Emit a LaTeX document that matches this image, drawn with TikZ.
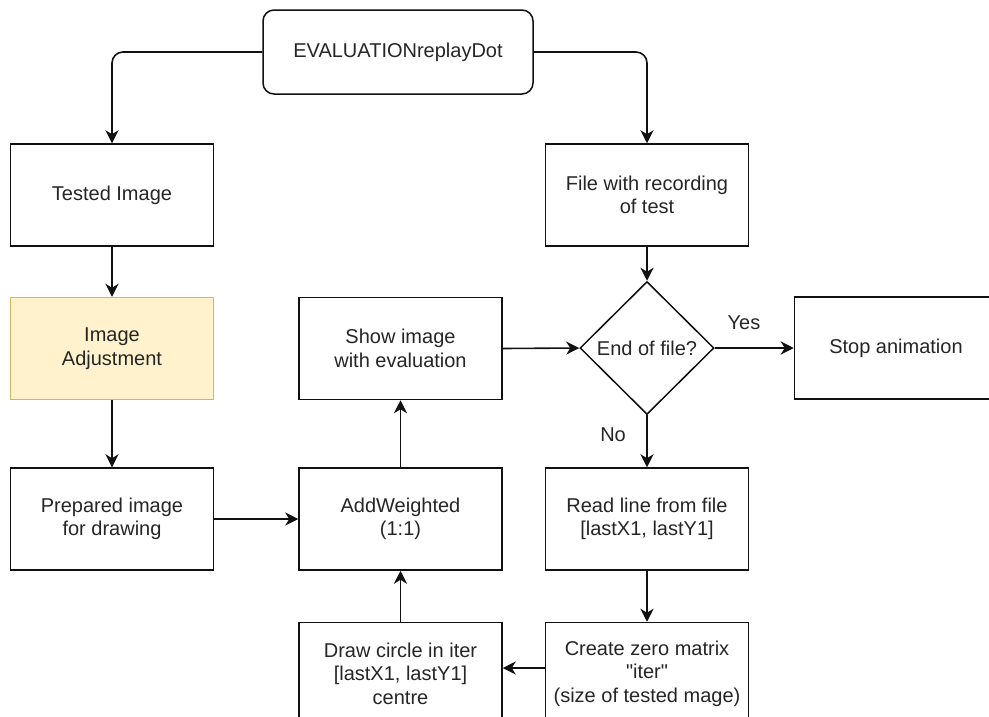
\documentclass[tikz,border=0pt]{standalone}
\usepackage{fontspec}
\setmainfont{Liberation Sans}[Ligatures=TeXOff]
\usetikzlibrary{arrows.meta,positioning,shapes.geometric}

\definecolor{adjfill}{HTML}{FFF2CC}
\definecolor{adjdraw}{HTML}{D6B656}
\definecolor{inkline}{HTML}{111111}

\begin{document}
\begin{tikzpicture}[
  x=1pt, y=-1pt,
  font=\fontsize{20}{23.5}\selectfont,
  node distance=50pt and 84pt,
  block/.style={
    rectangle,
    draw=inkline,
    fill=white,
    line width=1.5pt,
    minimum width=203pt,
    minimum height=102pt,
    align=center,
    text=black!85
  },
  startbox/.style={block, rounded corners=11pt, minimum width=270pt, minimum height=84pt},
  adjbox/.style={block, draw=adjdraw, fill=adjfill},
  decision/.style={
    diamond,
    draw=inkline,
    line width=1.5pt,
    aspect=1,
    inner sep=0pt,
    minimum width=134pt,
    minimum height=133pt,
    text=black!85
  },
  arrow/.style={-{Stealth[length=13pt, width=13pt, inset=4pt]}, line width=1.6pt, draw=inkline},
  lbl/.style={font=\fontsize{20}{23.5}\selectfont, text=black!85}
]
  \useasboundingbox (0,0) rectangle (989,716);

  \node[startbox] (start) at (398,52) {EVALUATIONreplayDot};
  \node[block] (tested) at (112,195) {Tested Image};
  \node[block] (recording) at (647,195) {File with recording\\of test};

  \node[adjbox, below=50pt of tested] (adjust) {Image\\Adjustment};
  \node[block, below=67pt of adjust] (prepared) {Prepared image\\for drawing};
  \node[block, right=84pt of adjust] (show) {Show image\\with evaluation};
  \node[block, below=67pt of show] (addw) {AddWeighted\\(1:1)};
  \node[block, below=51pt of addw] (circle) {Draw circle in iter\\{}[lastX1, lastY1]\\centre};

  \node[decision, below=34pt of recording] (eof) {End of file?};
  \node[block, right=79pt of eof] (stop) {Stop animation};
  \node[block, below=52pt of eof] (readline) {Read line from file\\{}[lastX1, lastY1]};
  \node[block, below=51pt of readline] (zero) {Create zero matrix\\"iter"\\(size of tested mage)};

  \draw[arrow, rounded corners=11pt] (start.west) -| (tested.north);
  \draw[arrow, rounded corners=11pt] (start.east) -| (recording.north);
  \draw[arrow] (tested) -- (adjust);
  \draw[arrow] (adjust) -- (prepared);
  \draw[arrow] (prepared) -- (addw);
  \draw[arrow] (addw) -- (show);
  \draw[arrow] (circle) -- (addw);
  \draw[arrow] (show.east) -- (eof.west);
  \draw[arrow] (recording) -- (eof);
  \draw[arrow] (eof.east) -- node[lbl, pos=0.37, above=14pt] {Yes} (stop.west);
  \draw[arrow] (eof.south) -- node[lbl, pos=0.37, left=17pt] {No} (readline.north);
  \draw[arrow] (readline) -- (zero);
  \draw[arrow] (zero.west |- 0,668) -- (circle.east |- 0,668);
\end{tikzpicture}
\end{document}
